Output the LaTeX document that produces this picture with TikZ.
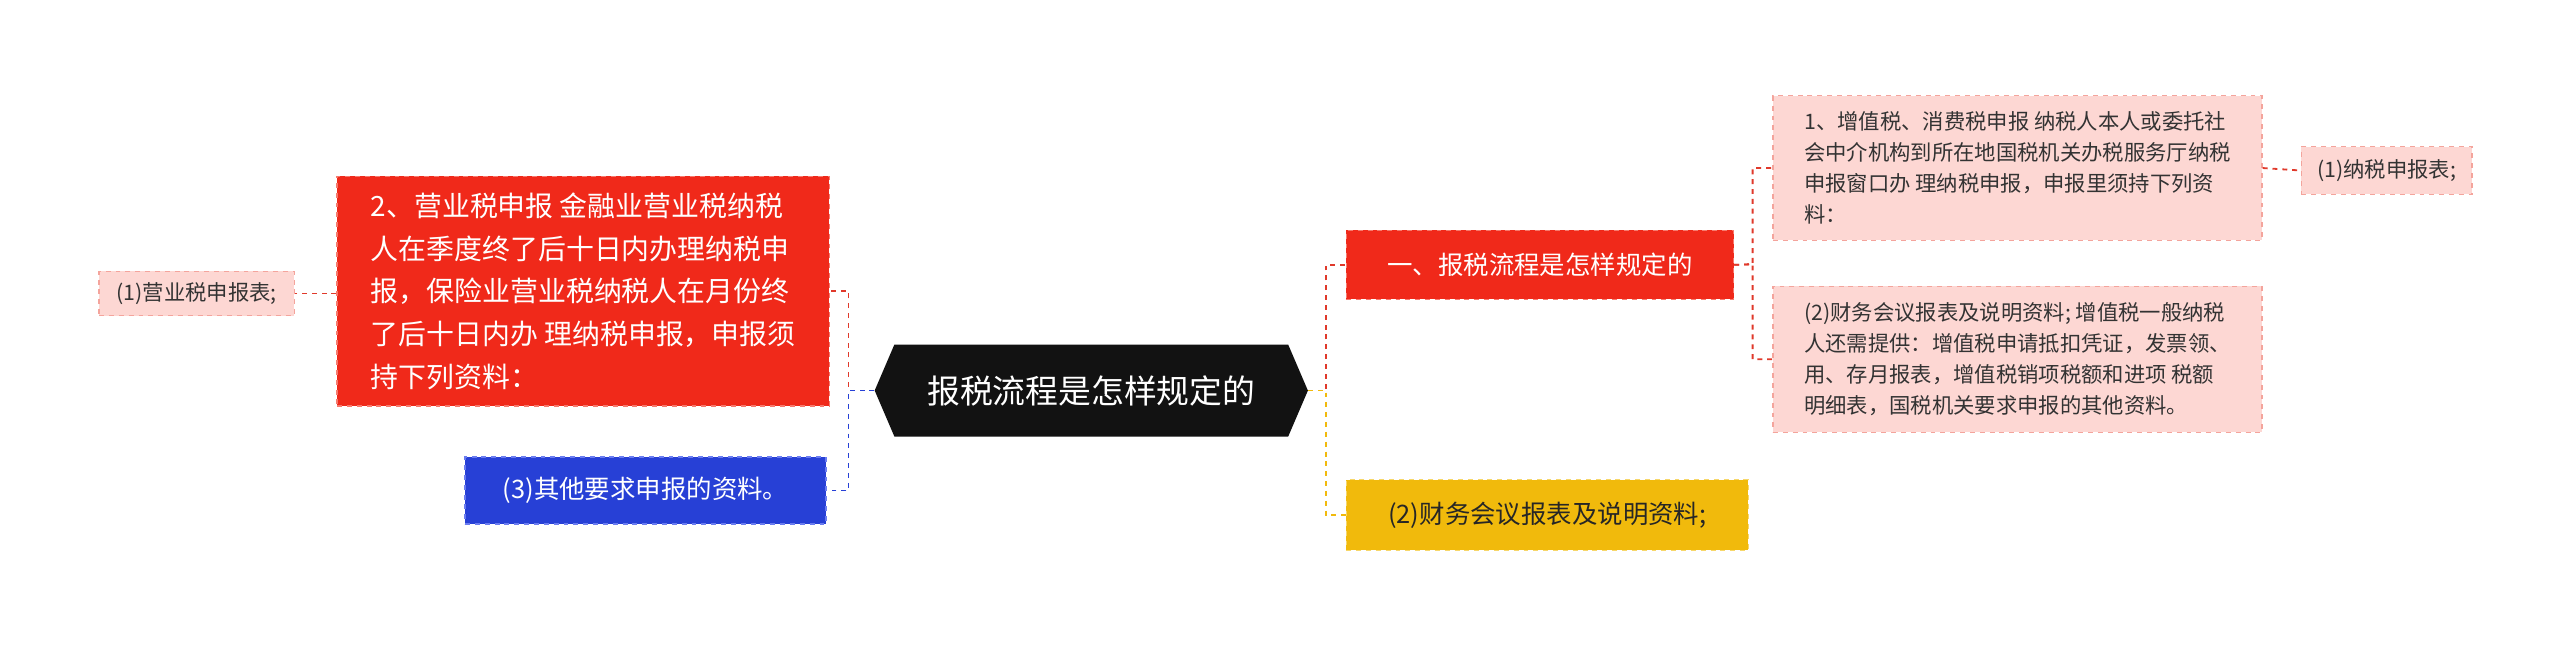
\documentclass[tikz,border=0pt]{standalone}
\usepackage{fontspec}
\setmainfont{Noto Sans CJK SC}
\begin{document}
\begin{tikzpicture}[x=1pt,y=-1pt,
  box/.style={draw,dashed,line width=0.8pt,inner xsep=8pt,inner ysep=5pt,anchor=north west,align=left},
  redbox/.style={box,fill=red1,draw=red2,text=white},
  pinkbox/.style={box,fill=pink1,draw=pink2,text=black!80,font=\fontsize{13}{19}\selectfont},
  link/.style={dashed,line width=1.1pt}]
\definecolor{red1}{HTML}{F0291A}
\definecolor{red2}{HTML}{F77A6E}
\definecolor{pink1}{HTML}{FDD7D3}
\definecolor{pink2}{HTML}{F4A49C}
\definecolor{blue1}{HTML}{2740D6}
\definecolor{blue2}{HTML}{6A7CF0}
\definecolor{yel1}{HTML}{F1BA0C}
\definecolor{yel2}{HTML}{F7D76A}
\definecolor{linered}{HTML}{E0392B}
\useasboundingbox (0,0) rectangle (1560,393);
\fill[white] (0,0) rectangle (1560,393);
% central
\fill[black!93] (533,238)--(545,210)--(785,210)--(797,238)--(785,266)--(545,266)--cycle;
\node[minimum width=264pt,minimum height=56pt,inner sep=0,text=white,font=\fontsize{20}{24}\selectfont] (c) at (665,238) {报税流程是怎样规定的};
% right branches
\node[redbox,font=\fontsize{15.5}{20}\selectfont,minimum width=236pt,minimum height=42pt,inner ysep=0pt] (r1) at (820,140) {一、报税流程是怎样规定的};
\node[box,fill=yel1,draw=yel2,text=black!85,font=\fontsize{15.5}{20}\selectfont,minimum width=245pt,minimum height=43pt,inner ysep=0pt] (r2) at (820,292) {(2)财务会议报表及说明资料;};
\node[pinkbox,minimum width=298pt,minimum height=88pt] (p1) at (1080,58) {1、增值税、消费税申报 纳税人本人或委托社\\会中介机构到所在地国税机关办税服务厅纳税\\申报窗口办 理纳税申报，申报里须持下列资\\料：};
\node[pinkbox,minimum width=298pt,minimum height=89pt] (p2) at (1080,174) {(2)财务会议报表及说明资料; 增值税一般纳税\\人还需提供：增值税申请抵扣凭证，发票领、\\用、存月报表，增值税销项税额和进项 税额\\明细表，国税机关要求申报的其他资料。};
\node[pinkbox,minimum width=104pt,minimum height=29pt,inner ysep=0pt] (p3) at (1402,89) {(1)纳税申报表;};
% left branches
\node[redbox,font=\fontsize{17}{26}\selectfont,minimum width=300pt,minimum height=140pt] (l1) at (205,107) {2、营业税申报 金融业营业税纳税\\人在季度终了后十日内办理纳税申\\报，保险业营业税纳税人在月份终\\了后十日内办 理纳税申报，申报须\\持下列资料：};
\node[box,fill=blue1,draw=blue2,text=white,font=\fontsize{15.5}{20}\selectfont,minimum width=220pt,minimum height=41pt,inner ysep=0pt] (l2) at (283,278) {(3)其他要求申报的资料。};
\node[pinkbox,minimum width=119pt,minimum height=27pt,inner ysep=0pt] (l3) at (60,165) {(1)营业税申报表;};
% connectors
\draw[link,linered] (c.east) -- (808,238) |- (r1.west);
\draw[link,yel1] (c.east) -- (808,238) |- (r2.west);
\draw[link,linered] (r1.east) -- (1068,161) |- (p1.west);
\draw[link,linered] (r1.east) -- (1068,161) |- (p2.west);
\draw[link,linered] (p1.east) -- (p3.west);
\draw[link,linered] (c.west) -- (517,238) |- (l1.east);
\draw[link,blue1] (c.west) -- (517,238) |- (l2.east);
\draw[link,linered] (l1.west |- l3.east) -- (l3.east);
\end{tikzpicture}
\end{document}
